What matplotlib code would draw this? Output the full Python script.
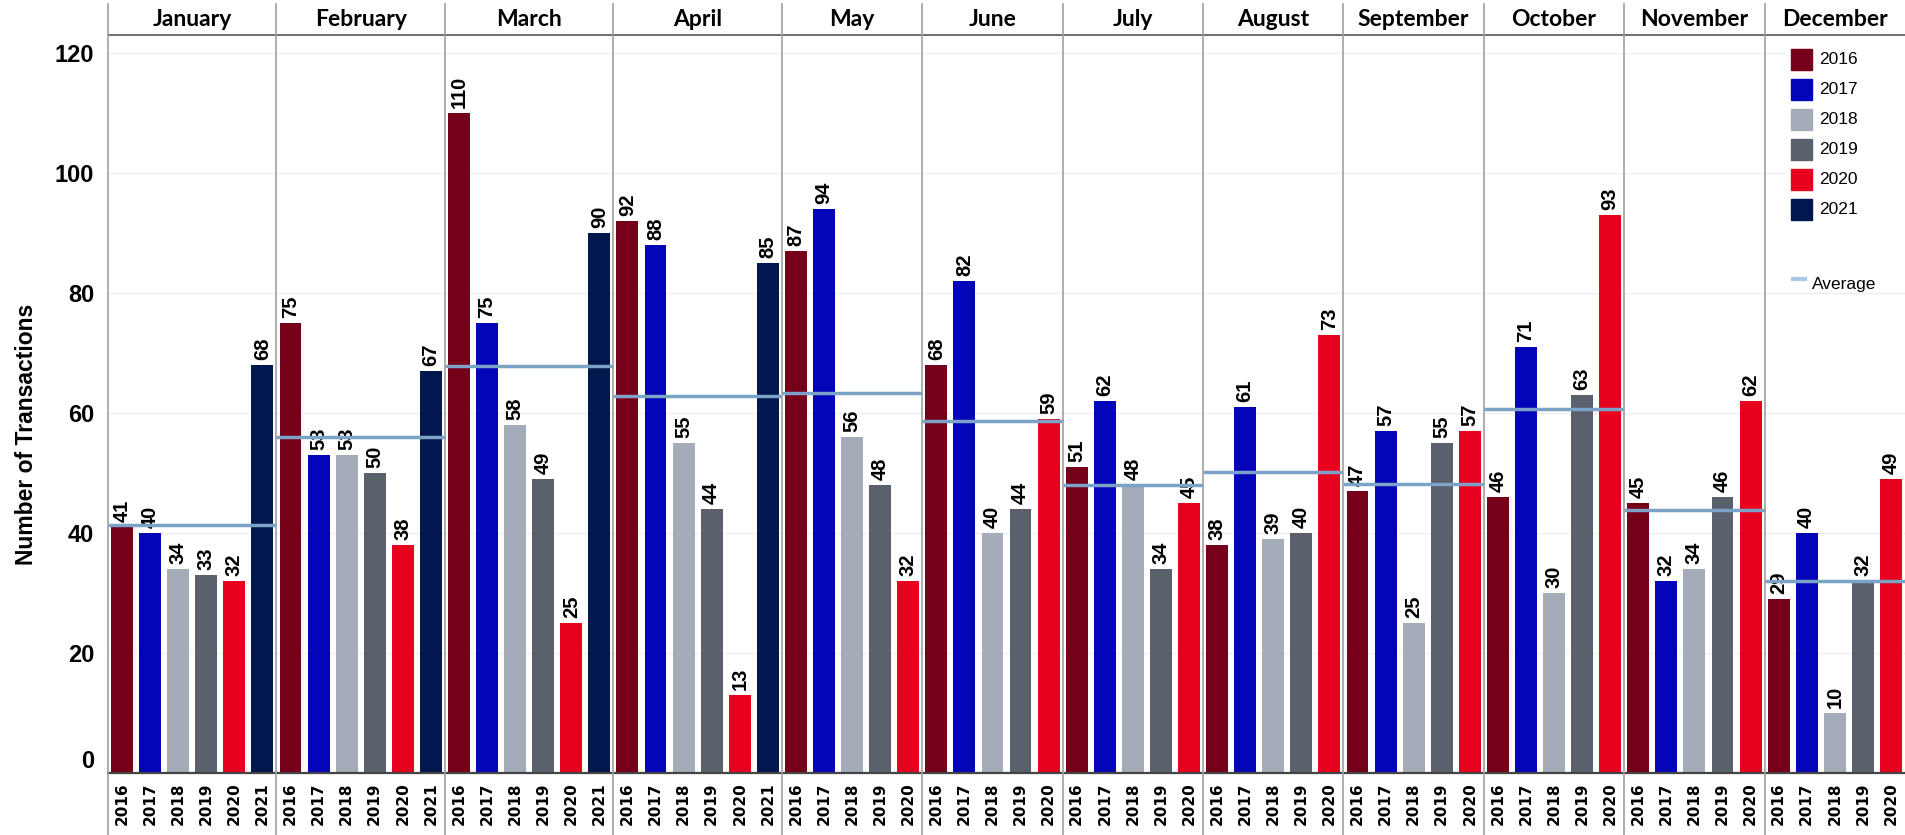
import matplotlib.pyplot as plt
from matplotlib.patches import Rectangle
from matplotlib.lines import Line2D
import matplotlib.transforms as mtransforms
import numpy as np

months = ['January', 'February', 'March', 'April', 'May', 'June', 'July',
          'August', 'September', 'October', 'November', 'December']
years = ['2016', '2017', '2018', '2019', '2020', '2021']
year_colors = ['#760019', '#0404B8', '#A3ACB8', '#5A606C', '#E8001F', '#02174D']

jan = [41, 40, 34, 33, 32, 68]
feb = [75, 53, 53, 50, 38, 67]
mar = [110, 75, 58, 49, 25, 90]
apr = [92, 88, 55, 44, 13, 85]
may = [87, 94, 56, 48, 32]
jun = [68, 82, 40, 44, 59]
jul = [51, 62, 48, 34, 45]
aug = [38, 61, 39, 40, 73]
sep = [47, 57, 25, 55, 57]
octo = [46, 71, 30, 63, 93]
nov = [45, 32, 34, 46, 62]
dec = [29, 40, 10, 32, 49]
counts = [jan, feb, mar, apr, may, jun, jul, aug, sep, octo, nov, dec]

yticks = [0, 20, 40, 60, 80, 100, 120]

W, H = 1905, 835
fig = plt.figure(figsize=(W / 100, H / 100), dpi=100)
ax = fig.add_axes([108 / W, 62 / H, 1797 / W, 738 / H])

avg_color = '#7BA3C8'
sep_color = '#A0A0A0'

blend = mtransforms.blended_transform_factory(ax.transData, ax.transAxes)

pos = []
labs = []
x = 0
bounds = [-0.5]
for m, vals in zip(months, counts):
    start = x
    for j, v in enumerate(vals):
        ax.bar(x, v, width=0.78, color=year_colors[j], zorder=2)
        ax.annotate(str(v), (x, v), xytext=(0, 3.5), textcoords='offset points',
                    rotation=90, ha='center', va='bottom', fontsize=14.5,
                    fontweight='bold', family='Liberation Sans', zorder=3)
        pos.append(x)
        labs.append(years[j])
        x += 1
    avg = np.mean(vals)
    ax.hlines(avg, start - 0.5, x - 0.5, color=avg_color, lw=2.5, zorder=4)
    ax.text((start + x - 1) / 2, (773 - 19) / 738, m, transform=blend,
            ha='center', va='center', fontsize=16.5, fontweight='bold',
            family='Lato')
    bounds.append(x - 0.5)

for b in bounds[:-1]:
    ax.plot([b, b], [-62 / 738, (773 - 4) / 738], transform=blend,
            color=sep_color, lw=1.2, clip_on=False, zorder=5)

ax.set_xlim(-0.5, x - 0.5)
ax.set_ylim(0, 738 / 6)
ax.set_xticks(pos)
ax.set_xticklabels(labs, rotation=90, fontsize=11, fontweight='bold',
                   family='DejaVu Sans')
ax.tick_params(axis='x', length=0, pad=7)
ax.set_yticks(yticks)
ax.set_yticklabels([str(t) for t in yticks], fontsize=17, fontweight='bold',
                   family='Liberation Sans')
ax.get_yticklabels()[0].set_va('bottom')
ax.tick_params(axis='y', length=0, pad=10)
ax.grid(axis='y', color='#EFEFEF', lw=1, zorder=0)
ax.set_axisbelow(True)

for s in ['right', 'left']:
    ax.spines[s].set_visible(False)
ax.spines['top'].set_color('#555555')
ax.spines['top'].set_linewidth(1.2)
ax.spines['bottom'].set_color('#444444')
ax.spines['bottom'].set_linewidth(1.6)

fig.text(27 / W, 1 - 434 / H, 'Number of Transactions', rotation=90,
         ha='center', va='center', fontsize=16.5, fontweight='bold',
         family='Liberation Sans')

# legend drawn by hand at the top right
fig.patches.append(Rectangle((1786 / W, 1 - 232 / H), 119 / W, 190 / H,
                             transform=fig.transFigure, color='white', zorder=6))
for j, yr in enumerate(years):
    yc = 59 + 30 * j
    fig.patches.append(Rectangle((1791 / W, 1 - (yc + 10.5) / H), 21 / W, 21 / H,
                                 transform=fig.transFigure,
                                 color=year_colors[j], zorder=7))
    fig.text(1819 / W, 1 - yc / H, yr, ha='left', va='center', fontsize=12.5,
             family='Liberation Sans', zorder=7)
fig.lines.append(Line2D([1793 / W, 1805 / W], [1 - 279 / H, 1 - 279 / H],
                        transform=fig.transFigure, color='#A9C8E8', lw=3))
fig.text(1812 / W, 1 - 284 / H, 'Average', ha='left', va='center', fontsize=12.5,
         family='Liberation Sans')

fig.savefig('out.png', dpi=100)
